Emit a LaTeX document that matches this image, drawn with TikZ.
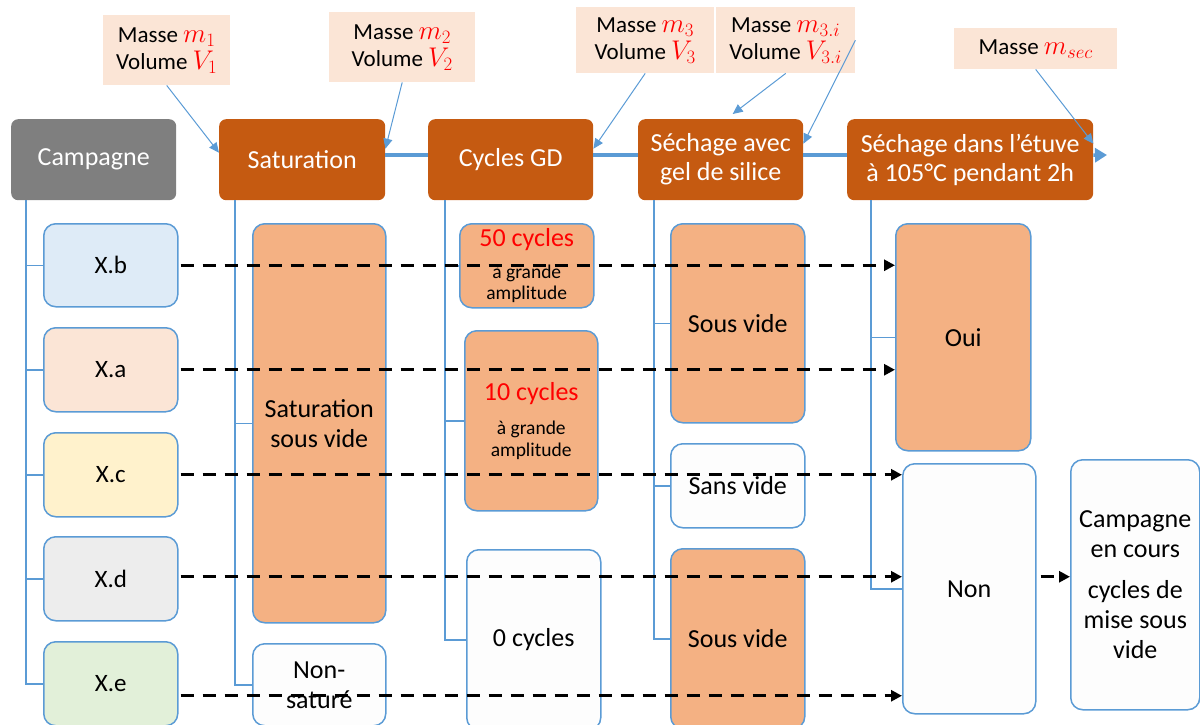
\documentclass[tikz,border=0pt]{standalone}
\usepackage{fix-cm}
\usepackage{fontspec}
\setmainfont{Carlito}
\usetikzlibrary{arrows.meta}
\definecolor{hdrorange}{HTML}{C55A11}
\definecolor{hdrgray}{HTML}{7F7F7F}
\definecolor{boxorange}{HTML}{F4B183}
\definecolor{bord}{HTML}{5B9BD5}
\definecolor{annfill}{HTML}{FBE5D6}
\definecolor{fxb}{HTML}{DEEBF7}
\definecolor{fxa}{HTML}{FBE5D6}
\definecolor{fxc}{HTML}{FFF2CC}
\definecolor{fxd}{HTML}{EDEDED}
\definecolor{fxe}{HTML}{E2F0D9}
\definecolor{fwhite}{HTML}{FDFDFD}
\newcommand{\redm}[1]{\textcolor{red}{\fontsize{27}{26}\selectfont$#1$}}
\tikzset{
  hdr/.style={fill=hdrorange, rounded corners=7pt, text=white, font=\fontsize{26}{29}\selectfont, align=center, inner sep=0pt, anchor=north west},
  bx/.style={draw=bord, line width=1.5pt, rounded corners=12pt, align=center, inner sep=0pt, anchor=north west, font=\fontsize{25}{30}\selectfont},
  ann/.style={fill=annfill, align=center, inner sep=0pt, anchor=north west, font=\fontsize{23}{27}\selectfont},
  tree/.style={draw=bord, line width=1.5pt},
  dsh/.style={black, line width=3pt, dash pattern=on 13pt off 9pt, -{Triangle[length=11pt,width=11pt]}},
  annarrow/.style={draw=bord, line width=1pt, -{Triangle[length=10pt,width=9pt]}},
  link/.style={draw=bord, line width=3.5pt},
}
\begin{document}
\begin{tikzpicture}[x=1pt,y=-1pt]
\useasboundingbox (0,0) rectangle (1200,724);
% headers
\node[hdr, fill=hdrgray, minimum width=165pt, minimum height=81pt] (camp) at (11,119) {Campagne};
\node[hdr, minimum width=166pt, minimum height=81pt] (sat) at (219,119) {Saturation};
\node[hdr, minimum width=165pt, minimum height=81pt] (cyc) at (428,119) {Cycles GD};
\node[hdr, minimum width=165pt, minimum height=81pt] (sech) at (638,119) {Séchage avec\\gel de silice};
\node[hdr, minimum width=246pt, minimum height=81pt] (etuve) at (847,119) {Séchage dans l’étuve\\à 105°C pendant 2h};
% annotations
\node[ann, minimum width=127pt, minimum height=70pt] (a1) at (103,15) {Masse \redm{m_1}\\Volume \redm{V_1}};
\node[ann, minimum width=146pt, minimum height=70pt] (a2) at (329,12) {Masse \redm{m_2}\\Volume \redm{V_2}};
\node[ann, minimum width=138pt, minimum height=66pt] (a3) at (576,7) {Masse \redm{m_3}\\Volume \redm{V_3}};
\node[ann, minimum width=139pt, minimum height=66pt] (a4) at (716,7) {Masse \redm{m_{3.i}}\\Volume \redm{V_{3.i}}};
\node[ann, minimum width=163pt, minimum height=41pt] (a5) at (954,28) {Masse \redm{m_{sec}}};
% campaign column
\node[bx, fill=fxb, minimum width=134pt, minimum height=83pt] (xb) at (43,223) {X.b};
\node[bx, fill=fxa, minimum width=134pt, minimum height=84pt] (xa) at (43,327) {X.a};
\node[bx, fill=fxc, minimum width=134pt, minimum height=84pt] (xc) at (43,432) {X.c};
\node[bx, fill=fxd, minimum width=134pt, minimum height=84pt] (xd) at (43,536) {X.d};
\node[bx, fill=fxe, minimum width=134pt, minimum height=84pt] (xe) at (43,641) {X.e};
% saturation column
\node[bx, fill=boxorange, minimum width=133pt, minimum height=399pt, font=\fontsize{26}{30}\selectfont] (satsv) at (252,223) {Saturation\\sous vide};
\node[bx, fill=fwhite, minimum width=133pt, minimum height=82pt, font=\fontsize{26}{30}\selectfont] (nonsat) at (252,643) {Non-\\saturé};
% cycles column
\node[bx, fill=boxorange, minimum width=134pt, minimum height=84pt, font=\fontsize{19.5}{21}\selectfont] (c50) at (459,223) {\textcolor{red}{\fontsize{26}{28}\selectfont 50 cycles}\\[11pt]à grande\\amplitude};
\node[bx, fill=boxorange, minimum width=133pt, minimum height=180pt, font=\fontsize{19.5}{22}\selectfont] (c10) at (464,330) {\textcolor{red}{\fontsize{26}{28}\selectfont 10 cycles}\\[12pt]à grande\\amplitude};
\node[bx, fill=fwhite, minimum width=134pt, minimum height=180pt, font=\fontsize{26}{30}\selectfont] (c0) at (466,549) {0 cycles};
% sechage column
\node[bx, fill=boxorange, minimum width=134pt, minimum height=199pt, font=\fontsize{26}{30}\selectfont] (sv1) at (670,223) {Sous vide};
\node[bx, fill=fwhite, minimum width=134pt, minimum height=84pt, font=\fontsize{26}{30}\selectfont] (sans) at (670,443) {Sans vide};
\node[bx, fill=boxorange, minimum width=134pt, minimum height=180pt, font=\fontsize{26}{30}\selectfont] (sv2) at (670,548) {Sous vide};
% etuve column
\node[bx, fill=boxorange, minimum width=135pt, minimum height=227pt, font=\fontsize{26}{30}\selectfont] (oui) at (895,223) {Oui};
\node[bx, fill=fwhite, minimum width=133pt, minimum height=250pt, font=\fontsize{26}{30}\selectfont] (non) at (902,463) {Non};
\node[bx, fill=fwhite, minimum width=129pt, minimum height=250pt, font=\fontsize{26}{30}\selectfont] (cec) at (1070,459) {Campagne\\en cours\\[11pt]cycles de\\mise sous\\vide};
% tree lines
\foreach \c in {xb,xa,xc,xd,xe} \draw[tree] ([xshift=15pt]camp.south west) |- (\c.west);
\foreach \c in {satsv,nonsat} \draw[tree] ([xshift=16pt]sat.south west) |- (\c.west);
\foreach \c in {c50,c10,c0} \draw[tree] ([xshift=17pt]cyc.south west) |- (\c.west);
\foreach \c in {sv1,sans,sv2} \draw[tree] ([xshift=16pt]sech.south west) |- (\c.west);
\foreach \c in {oui,non} \draw[tree] ([xshift=24pt]etuve.south west) |- (\c.west);
% header links
\draw[link] ([yshift=4.5pt]sat.east) -- ([yshift=4.5pt]cyc.west);
\draw[link] ([yshift=4.5pt]cyc.east) -- ([yshift=4.5pt]sech.west);
\draw[link] ([yshift=4.5pt]sech.east) -- ([yshift=4.5pt]etuve.west);
\coordinate (etend) at (1107,155);
\draw[link, -{Triangle[length=12pt,width=14pt]}] ([yshift=4.5pt]etuve.east) -- (etend);
% annotation arrows
\draw[annarrow] (a1.south) -- ([yshift=7pt]sat.west);
\draw[annarrow] (a2.south) -- ([yshift=11pt]sat.east);
\draw[annarrow] (a3.south) -- ([yshift=11pt]cyc.east);
\draw[annarrow] (a4.south) -- ([xshift=12pt,yshift=5pt]sech.north);
\draw[annarrow] (a4.east) -- ([yshift=16pt]sech.east);
\draw[annarrow] (a5.south) -- ([yshift=16pt]etuve.east);
% dashed arrows
\draw[dsh] ([xshift=2pt]xb.east) -- (xb.east -| oui.west);
\draw[dsh] ([xshift=2pt]xa.east) -- (xa.east -| oui.west);
\draw[dsh] ([xshift=2pt]xc.east) -- (xc.east -| non.west);
\draw[dsh] ([xshift=2pt,yshift=2pt]xd.east) -- ([yshift=2pt]xd.east -| non.west);
\draw[dsh] ([xshift=2pt,yshift=-12pt]xe.east) -- ([yshift=-12pt]xe.east -| non.west);
\draw[dsh] ([xshift=4pt,yshift=12pt]non.east) -- ([yshift=12pt]non.east -| cec.west);
\end{tikzpicture}
\end{document}
